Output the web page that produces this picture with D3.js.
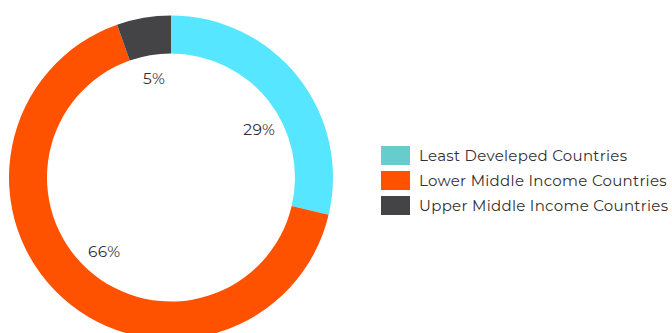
<!DOCTYPE html>
<html>
<head>
<meta charset="utf-8">
<script src="https://cdn.jsdelivr.net/npm/d3@7"></script>
<style>
  body { margin: 0; background: #fff; }
  text { font-family: "Montserrat", "Open Sans", "Noto Sans", sans-serif; fill: #352f30; letter-spacing: 0.3px; }
</style>
</head>
<body>
<script>
var categories = ["Least Develeped Countries", "Lower Middle Income Countries", "Upper Middle Income Countries"]
var values = [28.7, 65.9, 5.4]
var sliceColors = ["#57e6ff", "#ff5200", "#444446"]
var legendColors = ["#66cccc", "#ff5200", "#444446"]

var width = 672,
    height = 333,
    cx = 171,
    cy = 177.5,
    outerR = 162,
    innerR = 124

var svg = d3.select("body")
    .append("svg")
    .attr("width", width)
    .attr("height", height)

var g = svg.append("g")
    .attr("transform", "translate(" + cx + "," + cy + ")")

var total = d3.sum(values)
var pie = d3.pie().sort(null)
var arcs = pie(values)

var arc = d3.arc()
    .innerRadius(innerR)
    .outerRadius(outerR)

g.selectAll("path.slice")
    .data(arcs)
    .enter()
    .append("path")
        .attr("class", "slice")
        .attr("d", arc)
        .style("fill", function(d, i) {return sliceColors[i]})

// labels sit inside the hole
var labelArc = d3.arc().innerRadius(100).outerRadius(100)

g.selectAll("text.pct")
    .data(arcs)
    .enter()
    .append("text")
        .attr("class", "pct")
        .attr("transform", function(d, i) {
            var a = (d.startAngle + d.endAngle) / 2
            if (i == 0) a += 0.18
            var c = labelArc.centroid({startAngle: a, endAngle: a})
            return "translate(" + c[0] + "," + c[1] + ")"
        })
        .attr("text-anchor", "middle")
        .attr("dy", "0.3em")
        .style("font-size", "15.5px")
        .text(function(d) {return Math.round(d.value / total * 100) + "%"})

var legend = svg.append("g")
    .attr("transform", "translate(381,146)")

var item = legend.selectAll("g.item")
    .data(categories)
    .enter()
    .append("g")
        .attr("class", "item")
        .attr("transform", function(d, i) {return "translate(0," + i * 25 + ")"})

item.append("rect")
    .attr("width", 29)
    .attr("height", 19)
    .style("fill", function(d, i) {return legendColors[i]})

item.append("text")
    .attr("x", 38)
    .attr("y", 15)
    .style("font-size", "15px")
    .text(function(d) {return d})
</script>
</body>
</html>
